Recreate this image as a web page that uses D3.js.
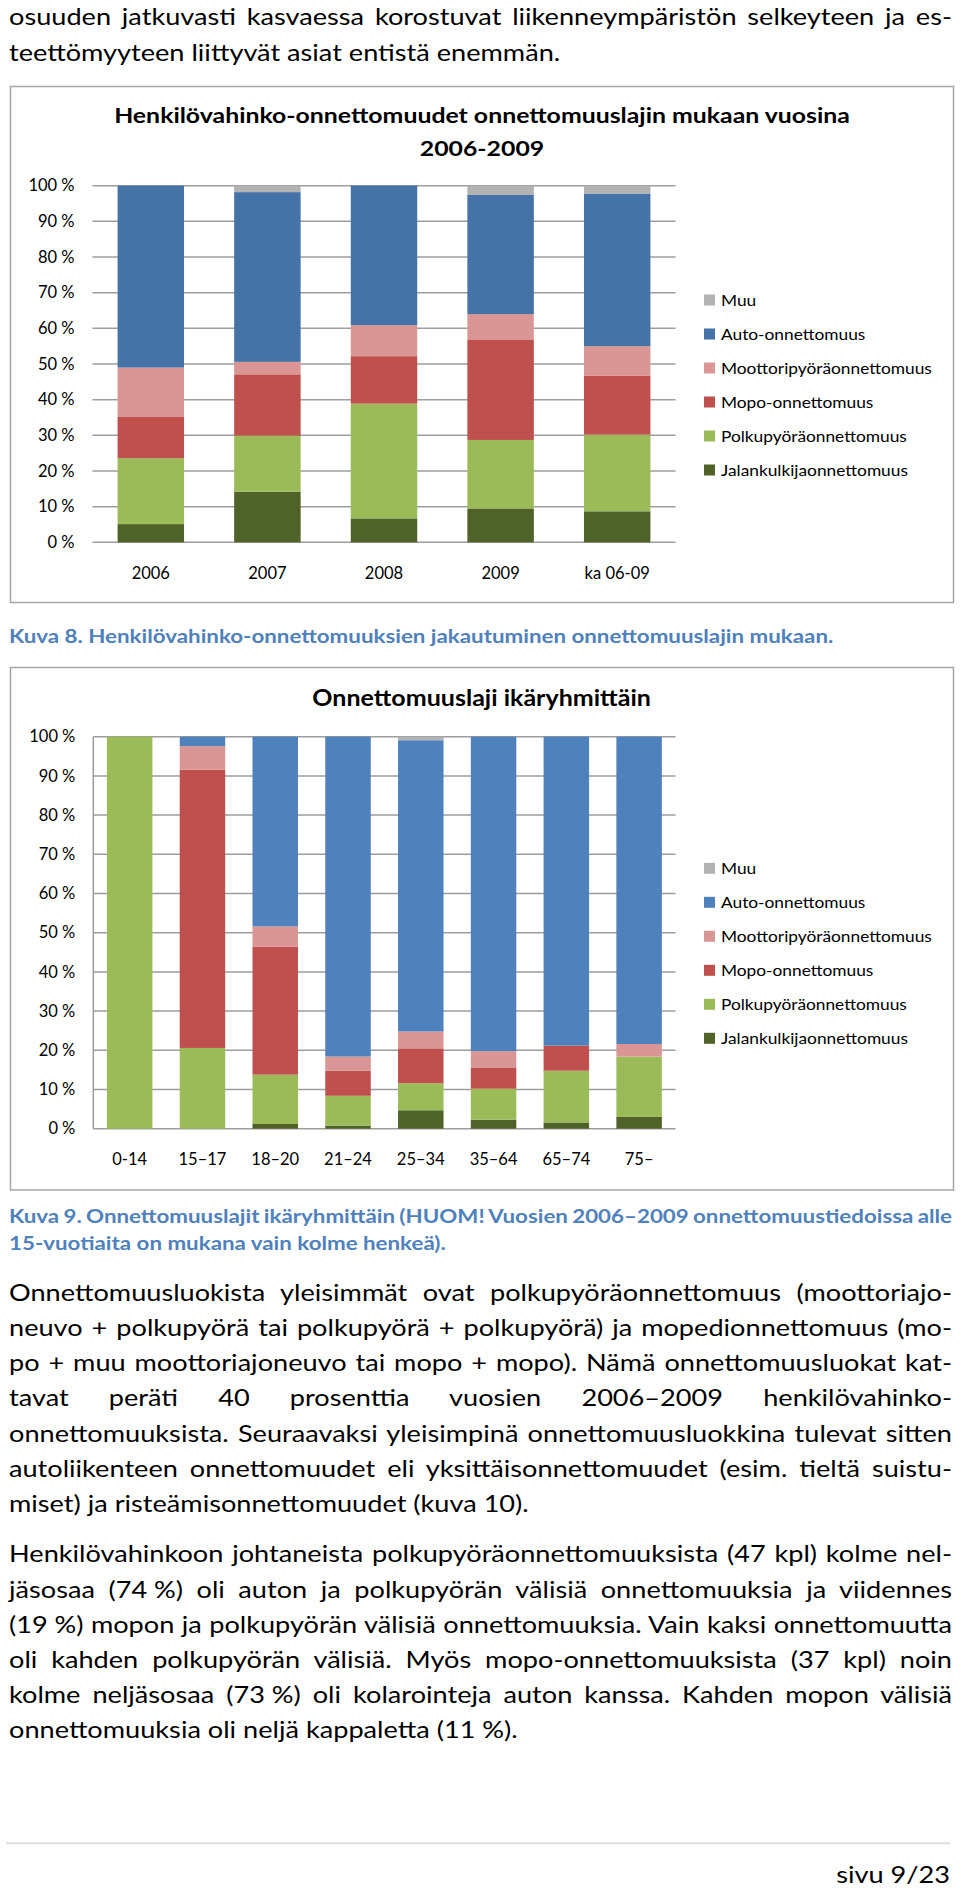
<!DOCTYPE html>
<html><head><meta charset="utf-8">
<script src="https://cdn.jsdelivr.net/npm/d3@7"></script>
<style>body{margin:0;background:#fff}svg{display:block}text{font-family:Lato,"Open Sans",sans-serif}</style>
</head><body>
<svg id="page" width="960" height="1892"></svg>
<script>
// ---------- data ----------
const seriesKeys = ["Jalankulkijaonnettomuus","Polkupyöräonnettomuus","Mopo-onnettomuus","Moottoripyöräonnettomuus","Auto-onnettomuus","Muu"];

const chart1Title = ["Henkilövahinko-onnettomuudet onnettomuuslajin mukaan vuosina","2006-2009"];
const years = ["2006","2007","2008","2009","ka 06-09"];
const jalan1 = [5.1,14.2,6.7,9.5,8.7];
const polku1 = [18.5,15.7,32.2,19.2,21.5];
const mopo1  = [11.7,17.2,13.3,28.2,16.5];
const moto1  = [13.7,3.5,8.7,7.1,8.3];
const auto1  = [51.0,47.6,39.1,33.4,42.8];
const muu1   = [0,1.8,0,2.6,2.2];

const chart2Title = ["Onnettomuuslaji ikäryhmittäin"];
const ages = ["0-14","15\u201317","18\u201320","21\u201324","25\u201334","35\u201364","65\u201374","75\u2013"];
const jalan2 = [0,0,1.2,0.8,4.7,2.3,1.6,3.0];
const polku2 = [100,20.6,12.6,7.6,6.9,7.9,13.2,15.4];
const mopo2  = [0,71.0,32.6,6.4,8.9,5.3,6.4,0];
const moto2  = [0,6.0,5.2,3.6,4.3,4.3,0,3.2];
const auto2  = [0,2.4,48.4,81.6,74.3,80.2,78.8,78.4];
const muu2   = [0,0,0,0,0.9,0,0,0];

const yTicks = [0,10,20,30,40,50,60,70,80,90,100];

const topLines = [
  ["osuuden jatkuvasti kasvaessa korostuvat liikenneympäristön selkeyteen ja es-", true],
  ["teettömyyteen liittyvät asiat entistä enemmän.", false]
];
const caption8 = "Kuva 8. Henkilövahinko-onnettomuuksien jakautuminen onnettomuuslajin mukaan.";
const caption9 = [
  ["Kuva 9. Onnettomuuslajit ikäryhmittäin (HUOM! Vuosien 2006\u20132009 onnettomuustiedoissa alle", true],
  ["15-vuotiaita on mukana vain kolme henkeä).", false]
];
const para1 = [
  ["Onnettomuusluokista yleisimmät ovat polkupyöräonnettomuus (moottoriajo-", true],
  ["neuvo + polkupyörä tai polkupyörä + polkupyörä) ja mopedionnettomuus (mo-", true],
  ["po + muu moottoriajoneuvo tai mopo + mopo). Nämä onnettomuusluokat kat-", true],
  ["tavat peräti 40 prosenttia vuosien 2006\u20132009 henkilövahinko-", true],
  ["onnettomuuksista. Seuraavaksi yleisimpinä onnettomuusluokkina tulevat sitten", true],
  ["autoliikenteen onnettomuudet eli yksittäisonnettomuudet (esim. tieltä suistu-", true],
  ["miset) ja risteämisonnettomuudet (kuva 10).", false]
];
const para2 = [
  ["Henkilövahinkoon johtaneista polkupyöräonnettomuuksista (47 kpl) kolme nel-", true],
  ["jäsosaa (74\u202F%) oli auton ja polkupyörän välisiä onnettomuuksia ja viidennes", true],
  ["(19\u202F%) mopon ja polkupyörän välisiä onnettomuuksia. Vain kaksi onnettomuutta", true],
  ["oli kahden polkupyörän välisiä. Myös mopo-onnettomuuksista (37 kpl) noin", true],
  ["kolme neljäsosaa (73\u202F%) oli kolarointeja auton kanssa. Kahden mopon välisiä", true],
  ["onnettomuuksia oli neljä kappaletta (11\u202F%).", false]
];
const pageLabel = "sivu 9/23";

// ---------- helpers ----------
const svg = d3.select("#page");
const TEXT_L = 9, TEXT_R = 952;

function measure(str, size, weight){
  const t = svg.append("text").attr("font-size",size).attr("font-weight",weight).text(str);
  const w = t.node().getComputedTextLength();
  t.remove();
  return w;
}
function line(g, str, x, y, o){
  const t = g.append("text")
    .attr("transform",`translate(${x},${y}) scale(${o.sx},1)`)
    .attr("font-size",o.size).attr("font-weight",o.weight||400)
    .attr("fill",o.color||"#000")
    .attr("text-anchor",o.anchor||"start")
    .text(str);
  if(o.justify){
    const nat = t.node().getComputedTextLength();
    const n = (str.match(/ /g)||[]).length;
    if(n>0){
      const ws = ((TEXT_R-TEXT_L)/o.sx - nat)/n;
      t.style("word-spacing", ws+"px");
    }
  }
  return t;
}

// body text style
const BODY = 22.5;
const bodySx = 551.5 / measure("teettömyyteen liittyvät asiat entistä enemmän.", BODY, 400);
const CAP = 19;
const capSx = 825 / measure(caption8, CAP, 700);

const textG = svg.append("g");
topLines.forEach((l,i)=> line(textG, l[0], TEXT_L, 25 + i*36, {size:BODY, sx:bodySx, justify:l[1]}));
line(textG, caption8, TEXT_L, 642.7, {size:CAP, sx:capSx, weight:700, color:"#4f81bd"});
caption9.forEach((l,i)=> line(textG, l[0], TEXT_L, 1222.7 + i*27.5, {size:CAP, sx:capSx, weight:700, color:"#4f81bd", justify:l[1]}));
para1.forEach((l,i)=> line(textG, l[0], TEXT_L, 1300.7 + i*35.2, {size:BODY, sx:bodySx, justify:l[1]}));
para2.forEach((l,i)=> line(textG, l[0], TEXT_L, 1562.3 + i*35.2, {size:BODY, sx:bodySx, justify:l[1]}));

svg.append("line").attr("x1",6).attr("x2",950).attr("y1",1843.3).attr("y2",1843.3)
  .attr("stroke","#d9dee5").attr("stroke-width",2);
line(textG, pageLabel, 950, 1883.3, {size:BODY, sx:bodySx, anchor:"end"});

// ---------- charts ----------
function drawChart(cfg){
  const g = svg.append("g");
  g.append("rect").attr("x",cfg.frame[0]).attr("y",cfg.frame[1])
    .attr("width",cfg.frame[2]).attr("height",cfg.frame[3])
    .attr("fill","#fff").attr("stroke","#a5a5a5").attr("stroke-width",1.5);

  // title
  const tSx = cfg.titleW / measure(cfg.title[0], cfg.titleSize, 700);
  cfg.title.forEach((s,i)=> line(g, s, cfg.titleX, cfg.titleY + i*33, {size:cfg.titleSize, sx:tSx, weight:700, anchor:"middle"}));

  const x = d3.scaleBand().domain(cfg.cats).range([cfg.x0,cfg.x1])
    .paddingInner(cfg.pad).paddingOuter(cfg.pad/2);
  const y = d3.scaleLinear().domain([0,100]).range([cfg.yb,cfg.yt]);

  // gridlines
  g.append("g").selectAll("line").data(yTicks).join("line")
    .attr("x1",cfg.x0).attr("x2",cfg.x1)
    .attr("y1",d=>y(d)).attr("y2",d=>y(d))
    .attr("stroke","#9d9d9d").attr("stroke-width",1.5);
  if(cfg.vAxis){
    g.append("line").attr("x1",cfg.x0).attr("x2",cfg.x0).attr("y1",y(0)).attr("y2",y(100))
      .attr("stroke","#9d9d9d").attr("stroke-width",1.5);
  }
  // y axis labels via d3 axis
  const ya = g.append("g").attr("transform",`translate(${cfg.x0},0)`)
    .call(d3.axisLeft(y).tickValues(yTicks).tickSize(0).tickPadding(18).tickFormat(d=>d+"\u202F%"));
  ya.select(".domain").remove();
  ya.selectAll("text").attr("font-size",16.5).attr("fill","#000").style("font-family","Lato");

  // stacked bars
  const rows = cfg.cats.map((c,i)=>{
    const r = {cat:c};
    seriesKeys.forEach((k,j)=> r[k] = cfg.values[j][i]);
    return r;
  });
  const stack = d3.stack().keys(seriesKeys)(rows);
  g.append("g").selectAll("g").data(stack).join("g")
    .attr("fill",d=>cfg.colors[seriesKeys.indexOf(d.key)])
    .selectAll("rect").data(d=>d).join("rect")
    .attr("x",d=>x(d.data.cat)).attr("width",x.bandwidth())
    .attr("y",d=>y(d[1])).attr("height",d=>Math.max(0,y(d[0])-y(d[1])));

  // x labels
  const xa = g.append("g").attr("transform",`translate(0,${cfg.yb})`)
    .call(d3.axisBottom(x).tickSize(0).tickPadding(0));
  xa.select(".domain").remove();
  xa.selectAll("text").attr("font-size",16.5).attr("fill","#000").attr("dy",null)
    .attr("y",cfg.xLabelDy).style("font-family","Lato");

  // legend
  const legKeys = seriesKeys.slice().reverse();
  const lSize = 16;
  const lSx = 211 / measure("Moottoripyöräonnettomuus", lSize, 400);
  const lg = g.append("g");
  legKeys.forEach((k,i)=>{
    const cy = cfg.legY + i*34;
    lg.append("rect").attr("x",704).attr("y",cy-5.5).attr("width",11).attr("height",11)
      .attr("fill",cfg.colors[seriesKeys.indexOf(k)]);
    line(lg, k, 721, cy+5.5, {size:lSize, sx:lSx});
  });
}

drawChart({
  frame:[10.5,86.5,943,516], title:chart1Title, titleX:482, titleY:123, titleSize:21.5, titleW:736,
  cats:years, values:[jalan1,polku1,mopo1,moto1,auto1,muu1],
  colors:["#4f6228","#9bbb59","#c0504d","#d99694","#4572a7","#b2b2b2"],
  x0:92.5, x1:675.5, yt:185.7, yb:542.3, pad:0.43, vAxis:false, xLabelDy:36.7, legY:300
});
drawChart({
  frame:[10.5,667.5,943,522.5], title:chart2Title, titleX:481.6, titleY:706, titleSize:22.5, titleW:338.6,
  cats:ages, values:[jalan2,polku2,mopo2,moto2,auto2,muu2],
  colors:["#4f6228","#9bbb59","#c0504d","#d99694","#4f81bd","#b2b2b2"],
  x0:93.3, x1:675.5, yt:736.7, yb:1128.7, pad:0.375, vAxis:true, xLabelDy:36.3, legY:868.3
});
</script>
</body></html>
